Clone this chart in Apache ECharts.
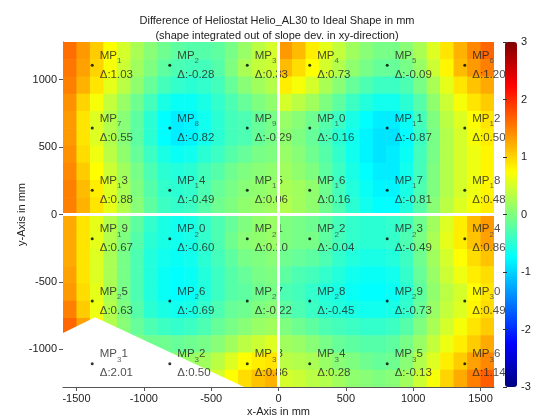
<!DOCTYPE html>
<html><head><meta charset="utf-8">
<script src="https://cdn.jsdelivr.net/npm/echarts@6/dist/echarts.min.js"></script>
<style>html,body{margin:0;padding:0;background:#fff}#c{width:536px;height:417px}</style>
</head><body><div id="c"></div>
<script>
// ---- data (mm) ----
const xCenters = [-1550,-1450,-1350,-1250,-1150,-1050,-950,-850,-750,-650,-550,-450,-350,-250,-150,-50,
                  50,150,250,350,450,550,650,750,850,950,1050,1150,1250,1350,1450,1550];
const yCenters = [1216,1088,960,832,704,576,448,320,192,64,-64,-192,-320,-448,-576,-704,-832,-960,-1088,-1216];
// surface difference in mm, rows top -> bottom, left -> right (null = no data)
const zRow01 = [1.6,1.35,1.05,0.75,0.5,0.25,0.05,-0.1,-0.2,-0.25,-0.25,-0.2,-0.05,0.15,0.35,0.5, 1.35,1.15,0.85,0.6,0.4,0.2,0.05,-0.05,-0.05,0.05,0.25,0.55,0.9,1.2,1.45,1.65];
const zRow02 = [1.55,1.3,1.0,0.7,0.45,0.2,0.0,-0.2,-0.3,-0.35,-0.35,-0.25,0.0,0.25,0.4,0.45, 1.15,0.95,0.75,0.5,0.3,0.1,-0.05,-0.15,-0.15,-0.05,0.15,0.45,0.8,1.15,1.35,1.5];
const zRow03 = [1.5,1.2,0.9,0.6,0.35,0.1,-0.15,-0.35,-0.45,-0.5,-0.45,-0.35,-0.15,0.05,0.2,0.3, 0.85,0.7,0.5,0.25,0.05,-0.15,-0.3,-0.4,-0.4,-0.3,-0.05,0.25,0.6,0.9,1.1,1.25];
const zRow04 = [1.4,1.0,0.7,0.4,0.15,-0.1,-0.35,-0.6,-0.7,-0.7,-0.6,-0.45,-0.3,-0.15,0.0,0.1, 0.5,0.35,0.2,0.0,-0.2,-0.4,-0.55,-0.65,-0.65,-0.5,-0.25,0.1,0.45,0.7,0.9,1.05];
const zRow05 = [1.35,0.9,0.55,0.3,0.05,-0.2,-0.5,-0.75,-0.85,-0.8,-0.65,-0.5,-0.35,-0.3,-0.15,-0.05, 0.15,0.05,-0.1,-0.25,-0.4,-0.6,-0.75,-0.85,-0.85,-0.7,-0.35,0.0,0.35,0.55,0.75,0.9];
const zRow06 = [1.35,0.9,0.55,0.3,0.05,-0.2,-0.5,-0.75,-0.85,-0.8,-0.65,-0.5,-0.35,-0.3,-0.15,-0.05, 0.1,0.0,-0.15,-0.3,-0.5,-0.65,-0.8,-0.9,-0.9,-0.75,-0.4,-0.05,0.3,0.5,0.7,0.85];
const zRow07 = [1.4,0.95,0.65,0.35,0.1,-0.15,-0.4,-0.6,-0.7,-0.65,-0.5,-0.4,-0.25,-0.15,-0.05,0.0, 0.15,0.05,-0.1,-0.25,-0.45,-0.65,-0.8,-0.9,-0.85,-0.7,-0.35,-0.05,0.3,0.5,0.65,0.8];
const zRow08 = [1.45,1.05,0.75,0.45,0.2,-0.05,-0.3,-0.5,-0.55,-0.5,-0.35,-0.25,-0.1,0.0,0.05,0.1, 0.2,0.1,0.0,-0.2,-0.4,-0.6,-0.75,-0.85,-0.85,-0.65,-0.35,0.0,0.3,0.5,0.65,0.8];
const zRow09 = [1.5,1.15,0.85,0.55,0.25,0.0,-0.25,-0.45,-0.5,-0.45,-0.3,-0.15,-0.05,0.05,0.1,0.15, 0.25,0.2,0.1,-0.1,-0.35,-0.55,-0.7,-0.8,-0.8,-0.6,-0.3,0.0,0.3,0.5,0.65,0.8];
const zRow10 = [1.5,1.2,0.9,0.6,0.3,0.05,-0.2,-0.4,-0.45,-0.4,-0.25,-0.1,0.0,0.1,0.15,0.2, 0.3,0.2,0.1,-0.1,-0.3,-0.5,-0.65,-0.75,-0.75,-0.55,-0.25,0.05,0.35,0.55,0.7,0.85];
const zRow11 = [1.25,0.9,0.6,0.3,0.05,-0.2,-0.45,-0.6,-0.65,-0.6,-0.45,-0.3,-0.15,0.0,0.1,0.15, 0.0,-0.05,-0.1,-0.2,-0.35,-0.45,-0.5,-0.5,-0.45,-0.35,-0.1,0.2,0.55,0.85,1.15,1.35];
const zRow12 = [1.25,0.9,0.6,0.3,0.0,-0.25,-0.5,-0.6,-0.65,-0.6,-0.45,-0.3,-0.1,0.05,0.1,0.15, 0.0,-0.05,-0.05,-0.2,-0.35,-0.45,-0.5,-0.5,-0.45,-0.3,-0.05,0.25,0.6,0.85,1.1,1.3];
const zRow13 = [1.25,0.9,0.55,0.25,-0.05,-0.3,-0.55,-0.65,-0.7,-0.65,-0.5,-0.35,-0.2,-0.05,0.0,0.05, -0.1,-0.15,-0.2,-0.3,-0.45,-0.55,-0.6,-0.6,-0.55,-0.4,-0.1,0.2,0.5,0.75,0.95,1.1];
const zRow14 = [1.3,0.9,0.55,0.25,-0.05,-0.3,-0.55,-0.7,-0.75,-0.7,-0.55,-0.4,-0.25,-0.15,-0.05,0.0, -0.2,-0.3,-0.35,-0.45,-0.55,-0.65,-0.7,-0.7,-0.65,-0.45,-0.15,0.15,0.45,0.65,0.85,0.95];
const zRow15 = [1.35,0.95,0.6,0.25,-0.05,-0.3,-0.55,-0.7,-0.75,-0.7,-0.55,-0.4,-0.25,-0.2,-0.1,-0.05, -0.3,-0.35,-0.45,-0.55,-0.6,-0.7,-0.75,-0.75,-0.7,-0.5,-0.2,0.1,0.35,0.5,0.75,0.9];
const zRow16 = [1.5,1.05,0.65,0.3,0.0,-0.25,-0.5,-0.6,-0.65,-0.6,-0.45,-0.3,-0.15,-0.1,0.0,0.05, -0.2,-0.3,-0.4,-0.5,-0.55,-0.6,-0.65,-0.65,-0.6,-0.45,-0.15,0.15,0.4,0.55,0.8,0.95];
const zRow17 = [1.65,1.3,0.8,0.3,0.05,-0.15,-0.3,-0.4,-0.45,-0.4,-0.3,-0.15,-0.05,0.05,0.15,0.2, 0.0,-0.1,-0.2,-0.3,-0.35,-0.4,-0.45,-0.45,-0.4,-0.25,0.0,0.25,0.5,0.7,0.9,1.05];
const zRow18 = [null,null,null,null,0.05,0.0,-0.1,-0.1,-0.15,-0.1,-0.05,0.05,0.2,0.35,0.45,0.55, 0.2,0.15,0.05,-0.05,-0.15,-0.2,-0.25,-0.25,-0.2,-0.05,0.15,0.4,0.65,0.85,1.05,1.25];
const zRow19 = [null,null,null,null,null,null,0.0,0.05,0.1,0.15,0.2,0.35,0.55,0.75,0.85,0.9, 0.35,0.3,0.25,0.15,0.05,0.0,-0.1,-0.15,-0.1,0.05,0.3,0.55,0.85,1.05,1.3,1.45];
const zRow20 = [null,null,null,null,null,null,null,null,0.2,0.25,0.3,0.5,0.75,0.95,1.1,1.2, 0.5,0.45,0.35,0.3,0.2,0.1,0.05,0.0,0.05,0.2,0.45,0.7,1.0,1.25,1.5,1.7];
const zRows = [zRow01,zRow02,zRow03,zRow04,zRow05,zRow06,zRow07,zRow08,zRow09,zRow10,
               zRow11,zRow12,zRow13,zRow14,zRow15,zRow16,zRow17,zRow18,zRow19,zRow20];
// boundary of the region without data (bottom-left)
const noDataHull = [[-1600,-880],[-1362,-762],[-255,-1280],[-1600,-1280]];
// measurement points
const mpX = [-1383,-807,-232,232,807,1383];
const mpY = [1108,642,180,-180,-642,-1108];
const mpDelta = [
  [1.03,-0.28,0.33,0.73,-0.09,1.20],
  [0.55,-0.82,-0.29,-0.16,-0.87,0.50],
  [0.88,-0.49,0.06,0.16,-0.81,0.48],
  [0.67,-0.60,0.10,-0.04,-0.49,0.86],
  [0.63,-0.69,-0.22,-0.45,-0.73,0.49],
  [2.01,0.50,0.86,0.28,-0.13,1.14]
];
const xTicks = [-1500,-1000,-500,0,500,1000,1500];
const yTicks = [-1000,-500,0,500,1000];
const gapX = [0];
const gapY = [0];
const jet = ['#00007F','#0000FF','#007FFF','#00FFFF','#7FFF7F','#FFFF00','#FF7F00','#FF0000','#7F0000'];

// ---- build ----
const heatData = [];
zRows.forEach((row, j) => row.forEach((v, i) => { if (v !== null) heatData.push([xCenters[i], yCenters[j], v]); }));
const dx = Math.abs(xCenters[1] - xCenters[0]);
const dy = Math.abs(yCenters[1] - yCenters[0]);
const mpData = [];
mpY.forEach((y, r) => mpX.forEach((x, c) => mpData.push([x, y, r * 6 + c + 1, mpDelta[r][c]])));

function mpLabel(p) {
  const n = p.value[2], d = p.value[3];
  const s = String(n);
  let head = '{m|MP}{s|' + s[0] + '}';
  if (s.length > 1) head += '{m|' + s.slice(1) + '}';
  return head + '\n{m|\u0394:' + d.toFixed(2) + '}';
}
const FF = 'Liberation Sans, Arial, sans-serif';
const txt = '#222';
const chart = echarts.init(document.getElementById('c'), null, {renderer: 'canvas'});
chart.setOption({
  animation: false,
  backgroundColor: '#fff',
  title: {
    text: 'Difference of Heliostat Helio_AL30 to Ideal Shape in mm\n(shape integrated out of slope dev. in xy-direction)',
    left: 272, top: 8, textAlign: 'center',
    textStyle: {fontSize: 11, fontWeight: 'normal', color: txt, lineHeight: 15, fontFamily: FF}
  },
  grid: [
    {left: 63, top: 42, width: 431, height: 345, containLabel: false, outerBoundsMode: 'none'},
    {left: 505, top: 42, width: 12, height: 345, containLabel: false, outerBoundsMode: 'none'}
  ],
  xAxis: [
    {type: 'value', gridIndex: 0, min: -1600, max: 1600,
     name: 'x-Axis in mm', nameLocation: 'middle', nameGap: 19, nameMoveOverlap: false,
     nameTextStyle: {fontSize: 11, color: txt, fontFamily: FF},
     axisLine: {show: true, onZero: false, lineStyle: {color: '#555'}},
     axisTick: {show: true, length: 4, customValues: xTicks, lineStyle: {color: '#555'}},
     axisLabel: {customValues: xTicks, margin: 6, fontSize: 11, color: txt, fontFamily: FF, formatter: v => String(v)},
     splitLine: {show: false}},
    {type: 'value', gridIndex: 1, min: 0, max: 1, show: false}
  ],
  yAxis: [
    {type: 'value', gridIndex: 0, min: -1280, max: 1280,
     name: 'y-Axis in mm', nameLocation: 'middle', nameGap: 36, nameMoveOverlap: false,
     nameTextStyle: {fontSize: 11, color: txt, fontFamily: FF},
     axisLine: {show: true, onZero: false, lineStyle: {color: '#555'}},
     axisTick: {show: true, length: 4, customValues: yTicks, lineStyle: {color: '#555'}},
     axisLabel: {customValues: yTicks, margin: 6, fontSize: 11, color: txt, fontFamily: FF, formatter: v => String(v)},
     splitLine: {show: false}},
    {type: 'value', gridIndex: 1, min: -3, max: 3, interval: 1, position: 'right', z: 10,
     axisLine: {show: false},
     axisTick: {show: true, inside: true, length: 2, lineStyle: {color: '#333'}},
     axisLabel: {margin: 4, fontSize: 11, color: txt, fontFamily: FF},
     splitLine: {show: false}},
    {type: 'value', gridIndex: 1, min: -3, max: 3, interval: 1, position: 'left', z: 10,
     axisLine: {show: false},
     axisTick: {show: true, inside: true, length: 2, lineStyle: {color: '#333'}},
     axisLabel: {show: false}, splitLine: {show: false}}
  ],
  visualMap: {
    type: 'continuous', min: -3, max: 3, dimension: 2, seriesIndex: 0,
    calculable: false, realtime: false, hoverLink: false,
    left: 505, top: 42, itemWidth: 12, itemHeight: 345, padding: 0,
    text: null, inRange: {color: jet}
  },
  series: [
    {
      type: 'custom', xAxisIndex: 0, yAxisIndex: 0, data: heatData, clip: true, silent: true,
      encode: {x: 0, y: 1},
      renderItem: function (params, api) {
        const x = api.value(0), y = api.value(1);
        const p0 = api.coord([x - dx / 2, y + dy / 2]);
        const p1 = api.coord([x + dx / 2, y - dy / 2]);
        return {type: 'rect', shape: {x: p0[0], y: p0[1], width: p1[0] - p0[0] + 0.6, height: p1[1] - p0[1] + 0.6},
                style: {fill: api.visual('color')}};
      }
    },
    {
      type: 'custom', xAxisIndex: 0, yAxisIndex: 0, data: [0], silent: true, clip: true,
      renderItem: function (params, api) {
        return {type: 'polygon', shape: {points: noDataHull.map(p => api.coord(p))}, style: {fill: '#fff'}};
      },
      markLine: {
        silent: true, symbol: 'none', label: {show: false},
        lineStyle: {color: '#fff', width: 3, type: 'solid'},
        data: gapX.map(v => ({xAxis: v})).concat(gapY.map(v => ({yAxis: v})))
      }
    },
    {
      type: 'scatter', xAxisIndex: 0, yAxisIndex: 0, data: mpData, symbolSize: 3, silent: true,
      itemStyle: {color: '#000'},
      label: {
        show: true, position: 'right', distance: 6, formatter: mpLabel, color: txt,
        rich: {
          m: {fontSize: 11.5, lineHeight: 19, color: txt, fontFamily: FF},
          s: {fontSize: 8, lineHeight: 7, verticalAlign: 'bottom', color: '#444', fontFamily: FF}
        }
      },
      labelLayout: {hideOverlap: false}
    }
  ]
});
</script></body></html>
